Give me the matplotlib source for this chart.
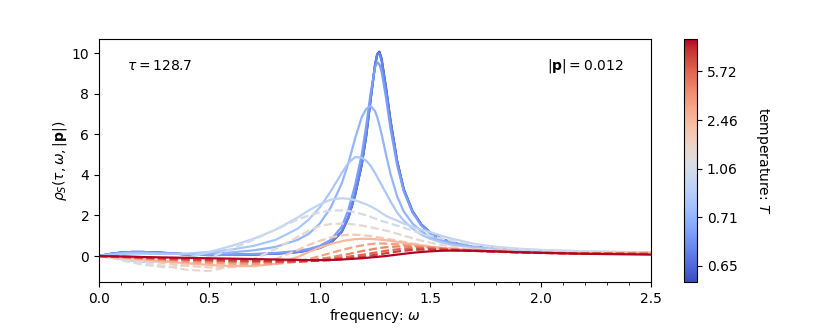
import matplotlib
matplotlib.use("Agg")
import matplotlib.pyplot as plt
import numpy as np
from matplotlib.colors import Normalize
from matplotlib.cm import ScalarMappable

omega = [0, 0.05, 0.1, 0.15, 0.2, 0.3, 0.4, 0.5, 0.6, 0.7, 0.8, 0.9, 0.95, 1.0, 1.05, 1.1, 1.13, 1.16, 1.19, 1.21,
         1.23, 1.25, 1.26, 1.27, 1.28, 1.3, 1.32, 1.35, 1.38, 1.42, 1.46, 1.5, 1.55, 1.6, 1.7, 1.8, 1.9, 2.0, 2.2, 2.5]

rho_0 = [0, 0.1, 0.17, 0.2, 0.2, 0.15, 0.08, 0.05, 0.06, 0.08, 0.12, 0.2, 0.28, 0.4, 0.65, 1.2, 1.9, 3.0, 4.5, 5.9,
         7.7, 9.4, 9.95, 10.08, 9.72, 8.3, 6.7, 4.7, 3.3, 2.2, 1.55, 1.15, 0.85, 0.65, 0.44, 0.33, 0.27, 0.23, 0.18, 0.15]
rho_1 = [0, 0.1, 0.17, 0.2, 0.2, 0.15, 0.08, 0.05, 0.06, 0.08, 0.12, 0.2, 0.28, 0.4, 0.66, 1.22, 1.92, 3.03, 4.53, 5.93,
         7.72, 9.4, 9.94, 10.05, 9.68, 8.27, 6.67, 4.68, 3.29, 2.2, 1.55, 1.15, 0.85, 0.65, 0.44, 0.33, 0.27, 0.23, 0.18, 0.15]
rho_2 = [0, 0.1, 0.17, 0.2, 0.2, 0.15, 0.08, 0.05, 0.06, 0.08, 0.12, 0.2, 0.29, 0.41, 0.67, 1.24, 1.95, 3.06, 4.57, 5.97,
         7.75, 9.4, 9.92, 10.0, 9.63, 8.22, 6.63, 4.66, 3.28, 2.2, 1.55, 1.15, 0.85, 0.65, 0.44, 0.33, 0.27, 0.23, 0.18, 0.15]
rho_3 = [0, 0.1, 0.16, 0.19, 0.19, 0.14, 0.08, 0.06, 0.07, 0.1, 0.15, 0.25, 0.35, 0.5, 0.8, 1.45, 2.3, 3.5, 5.0, 6.4,
         8.0, 9.3, 9.55, 9.45, 9.1, 7.8, 6.3, 4.5, 3.2, 2.15, 1.5, 1.12, 0.84, 0.64, 0.44, 0.33, 0.27, 0.23, 0.18, 0.15]
rho_4 = [0, 0.08, 0.14, 0.16, 0.16, 0.12, 0.1, 0.12, 0.18, 0.28, 0.45, 0.8, 1.1, 1.6, 2.4, 3.6, 4.6, 5.8, 6.85, 7.25,
         7.4, 7.15, 6.85, 6.45, 6.0, 5.0, 4.05, 2.95, 2.2, 1.6, 1.22, 0.95, 0.74, 0.59, 0.42, 0.32, 0.27, 0.23, 0.19, 0.16]
rho_5 = [0, 0.06, 0.1, 0.12, 0.12, 0.1, 0.12, 0.2, 0.32, 0.5, 0.8, 1.35, 1.8, 2.4, 3.2, 4.1, 4.6, 4.88, 4.85, 4.7,
         4.45, 4.1, 3.9, 3.7, 3.5, 3.1, 2.7, 2.15, 1.75, 1.35, 1.05, 0.85, 0.68, 0.55, 0.4, 0.32, 0.27, 0.24, 0.2, 0.17]
rho_6 = [0, -0.08, -0.16, -0.24, -0.29, -0.27, -0.08, 0.2, 0.5, 0.85, 1.3, 1.9, 2.25, 2.55, 2.78, 2.85, 2.82, 2.75, 2.63, 2.55,
         2.45, 2.33, 2.27, 2.2, 2.12, 1.98, 1.88, 1.75, 1.6, 1.45, 1.3, 1.18, 1.0, 0.85, 0.6, 0.45, 0.36, 0.3, 0.23, 0.17]
rho_7 = [0, -0.08, -0.2, -0.32, -0.42, -0.56, -0.45, -0.08, 0.35, 0.8, 1.3, 1.8, 2.0, 2.15, 2.24, 2.25, 2.22, 2.16, 2.07, 2.0,
         1.93, 1.85, 1.81, 1.77, 1.73, 1.67, 1.6, 1.5, 1.4, 1.25, 1.12, 1.0, 0.87, 0.75, 0.55, 0.42, 0.35, 0.3, 0.23, 0.17]
rho_8 = [0, -0.05, -0.12, -0.2, -0.3, -0.5, -0.68, -0.74, -0.5, -0.15, 0.35, 0.95, 1.25, 1.48, 1.58, 1.6, 1.58, 1.55, 1.5, 1.46,
         1.42, 1.37, 1.35, 1.32, 1.3, 1.25, 1.2, 1.1, 1.0, 0.88, 0.76, 0.66, 0.55, 0.46, 0.34, 0.27, 0.23, 0.2, 0.17, 0.14]
rho_9 = [0, -0.04, -0.1, -0.16, -0.22, -0.36, -0.48, -0.56, -0.55, -0.42, -0.15, 0.3, 0.55, 0.75, 0.92, 1.02, 1.05, 1.05, 1.03, 1.01,
         0.98, 0.95, 0.93, 0.92, 0.9, 0.86, 0.82, 0.76, 0.7, 0.62, 0.55, 0.48, 0.41, 0.35, 0.27, 0.22, 0.19, 0.17, 0.14, 0.12]
rho_10 = [0, -0.03, -0.07, -0.12, -0.17, -0.27, -0.36, -0.44, -0.49, -0.5, -0.38, -0.05, 0.2, 0.42, 0.6, 0.73, 0.79, 0.83, 0.85, 0.85,
          0.84, 0.83, 0.82, 0.81, 0.8, 0.78, 0.75, 0.7, 0.65, 0.58, 0.52, 0.46, 0.4, 0.35, 0.27, 0.22, 0.19, 0.16, 0.13, 0.11]
rho_11 = [0, -0.03, -0.06, -0.1, -0.14, -0.22, -0.29, -0.34, -0.38, -0.4, -0.39, -0.28, -0.15, 0.0, 0.15, 0.3, 0.38, 0.46, 0.52, 0.56,
          0.59, 0.61, 0.62, 0.62, 0.62, 0.61, 0.6, 0.58, 0.55, 0.51, 0.47, 0.43, 0.38, 0.34, 0.27, 0.22, 0.19, 0.16, 0.13, 0.11]
rho_12 = [0, -0.02, -0.05, -0.08, -0.11, -0.17, -0.22, -0.26, -0.29, -0.31, -0.32, -0.28, -0.22, -0.14, -0.06, 0.04, 0.1, 0.17, 0.24, 0.28,
          0.32, 0.36, 0.38, 0.39, 0.41, 0.43, 0.45, 0.47, 0.47, 0.46, 0.44, 0.41, 0.37, 0.33, 0.27, 0.22, 0.19, 0.16, 0.13, 0.11]
rho_13 = [0, -0.02, -0.04, -0.06, -0.09, -0.14, -0.18, -0.22, -0.25, -0.27, -0.28, -0.28, -0.25, -0.2, -0.14, -0.07, -0.03, 0.01, 0.06, 0.09,
          0.13, 0.17, 0.18, 0.2, 0.22, 0.26, 0.29, 0.33, 0.36, 0.38, 0.38, 0.37, 0.35, 0.32, 0.26, 0.22, 0.18, 0.16, 0.13, 0.11]
rho_14 = [0, -0.02, -0.03, -0.05, -0.07, -0.11, -0.15, -0.18, -0.21, -0.23, -0.25, -0.25, -0.25, -0.23, -0.2, -0.15, -0.12, -0.08, -0.04, -0.01,
          0.02, 0.06, 0.07, 0.09, 0.1, 0.14, 0.17, 0.22, 0.26, 0.3, 0.32, 0.32, 0.31, 0.29, 0.25, 0.21, 0.18, 0.15, 0.12, 0.1]
rho_15 = [0, -0.01, -0.02, -0.03, -0.05, -0.07, -0.09, -0.11, -0.13, -0.15, -0.17, -0.19, -0.2, -0.2, -0.19, -0.17, -0.15, -0.13, -0.11, -0.09,
          -0.07, -0.05, -0.04, -0.03, -0.02, 0.0, 0.03, 0.07, 0.11, 0.16, 0.2, 0.23, 0.26, 0.27, 0.26, 0.23, 0.19, 0.16, 0.11, 0.07]

curves = [rho_0, rho_1, rho_2, rho_3, rho_4, rho_5, rho_6, rho_7,
          rho_8, rho_9, rho_10, rho_11, rho_12, rho_13, rho_14, rho_15]
line_styles = ['-', '-', '-', '-', '-', '-', '-', '--', '--', '--', '-', '--', '--', '--', '--', '-']

cbar_tick_index = [1, 4, 7, 10, 13]
cbar_tick_labels = ['0.65', '0.71', '1.06', '2.46', '5.72']

tau_text = r'$\tau = 128.7$'
p_text = r'$|\mathbf{p}| = 0.012$'

fig = plt.figure(figsize=(8.3, 3.32), dpi=100)
ax = fig.add_axes([0.1193, 0.1506, 0.665, 0.7319])
cax = fig.add_axes([0.8241, 0.1506, 0.0157, 0.7319])

cmap = plt.get_cmap('coolwarm')
norm = Normalize(vmin=0, vmax=len(curves) - 1)

for i, (vals, ls) in enumerate(zip(curves, line_styles)):
    ax.plot(omega, vals, ls=ls, color=cmap(norm(i)), lw=1.6)

ax.set_xlim(0, 2.5)
ax.set_xticks(np.arange(0, 2.51, 0.5))
ax.set_xticks(np.arange(0, 2.51, 0.1), minor=True)
ax.set_yticks([0, 2, 4, 6, 8, 10])
ax.set_ylim(-1.28, 10.7)
ax.set_xlabel(r'frequency: $\omega$', labelpad=1)
ax.set_ylabel(r'$\rho_S(\tau, \omega, |\mathbf{p}|)$', labelpad=2)

ax.text(0.05, 0.89, tau_text, transform=ax.transAxes, ha='left', va='center', fontsize=10)
ax.text(0.95, 0.89, p_text, transform=ax.transAxes, ha='right', va='center', fontsize=10)

sm = ScalarMappable(norm=norm, cmap=cmap)
sm.set_array([])
cb = fig.colorbar(sm, cax=cax)
cb.set_ticks(cbar_tick_index)
cb.set_ticklabels(cbar_tick_labels)
cb.set_label(r'temperature: $T$', rotation=270, labelpad=24)

fig.savefig('out.png', dpi=100)
